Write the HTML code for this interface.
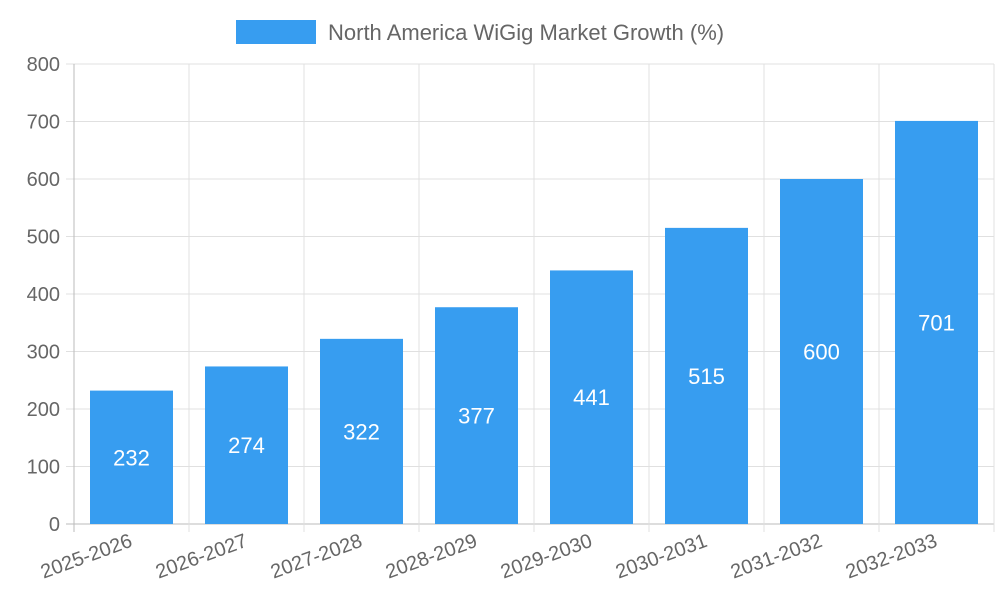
<!DOCTYPE html>
<html><head><meta charset="utf-8"><style>
body{margin:0;background:#fff;font-family:"Liberation Sans",sans-serif}
svg text{font-family:"Liberation Sans",sans-serif}
</style></head><body>
<svg id="chart" width="1000" height="600">
<g>
<rect x="236" y="20" width="80" height="24" fill="#379df0"/>
<text x="328" y="40" font-size="22" fill="#666">North America WiGig Market Growth (%)</text>
</g>
<g id="grid"></g><g id="bars"></g><g id="labels"></g>
</svg>
<script>
const categories=["2025-2026","2026-2027","2027-2028","2028-2029","2029-2030","2030-2031","2031-2032","2032-2033"];
const values=[232,274,322,377,441,515,600,701];
const yTicks=[0,100,200,300,400,500,600,700,800];
const L=74,R=994,T=64,B=524,yMax=800;
const ns="http://www.w3.org/2000/svg";
const bw=(R-L)/categories.length;
const y=v=>B-(v/yMax)*(B-T);
const x=i=>L+i*bw;
function mk(tag,attrs,parent,txt){const e=document.createElementNS(ns,tag);for(const k in attrs)e.setAttribute(k,attrs[k]);if(txt!==undefined)e.textContent=txt;document.getElementById(parent).appendChild(e);return e;}
yTicks.forEach(t=>{
 const g=mk('line',{x1:L-8,x2:R,y1:y(t),y2:y(t),stroke:t===0?'#bbb':'#e0e0e0','stroke-width':1},'grid');
 
 
 const tx=mk('text',{x:L-14,y:y(t)+7,'font-size':20,fill:'#666','text-anchor':'end'},'labels',t);
 
 
});
for(let i=0;i<=categories.length;i++){
 const g=mk('line',{x1:x(i),x2:x(i),y1:T,y2:B+8,stroke:i===0?'#bbb':'#e0e0e0','stroke-width':1},'grid');
 
 
}
categories.forEach((c,i)=>{
 const cx=x(i)+bw/2, w=83;
 const b=mk('rect',{x:cx-w/2,y:y(values[i]),width:w,height:B-y(values[i]),fill:'#379df0'},'bars');
 
 
 const v=mk('text',{x:cx,y:(y(values[i])+B)/2+8,'font-size':22,fill:'#fff','text-anchor':'middle'},'labels',values[i]);
 
 
 const lx=cx+2, ly=B+22;
 const t=mk('text',{x:lx,y:ly,'font-size':20,fill:'#666','text-anchor':'end',transform:`rotate(-20 ${lx} ${ly})`},'labels',c);
 
 
});
</script>
</body></html>
